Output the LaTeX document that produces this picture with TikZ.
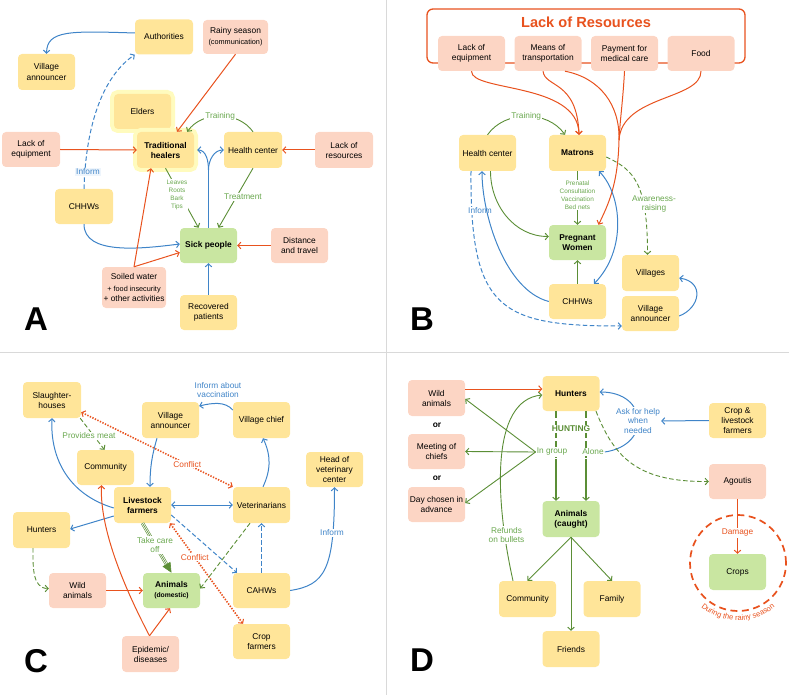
\documentclass[tikz,border=0pt]{standalone}
\usepackage{fontspec}
\setmainfont{Liberation Sans}
\usetikzlibrary{arrows.meta,decorations.text}

\definecolor{boxyellow}{HTML}{FFE599}
\definecolor{boxpink}{HTML}{FCD5C4}
\definecolor{boxgreen}{HTML}{C9E6A1}
\definecolor{halo}{HTML}{FFFBBE}
\definecolor{redline}{HTML}{E8521E}
\definecolor{blueline}{HTML}{3F84C8}
\definecolor{greenline}{HTML}{5B8E36}
\definecolor{greentext}{HTML}{6AA84F}
\definecolor{divider}{HTML}{D9D9D9}
\definecolor{informbg}{HTML}{EEF5FC}

\tikzset{
  box/.style={rounded corners=4pt, minimum width=57pt, minimum height=35pt,
    align=center, inner sep=1pt, font=\fontsize{8.4}{10}\selectfont},
  ybox/.style={box, fill=boxyellow},
  pbox/.style={box, fill=boxpink},
  gbox/.style={box, fill=boxgreen},
  bold/.style={font=\fontsize{8.4}{10}\selectfont\bfseries},
  halobox/.style={ybox, preaction={draw=halo, line width=8pt}},
  lbl/.style={font=\fontsize{8.3}{9.5}\selectfont, align=center, inner sep=1pt},
  glbl/.style={lbl, text=greentext, fill=white},
  blbl/.style={lbl, text=blueline, fill=white},
  rlbl/.style={lbl, text=redline, fill=white},
  smalltxt/.style={font=\fontsize{6.4}{8}\selectfont},
  panel/.style={inner sep=0pt, font=\fontsize{33}{33}\selectfont\bfseries},
  arr/.style={-{Straight Barb[length=3pt,width=6.5pt,line width=1pt]}},
  arrs/.style={{Straight Barb[length=3pt,width=6.5pt,line width=1pt]}-{Straight Barb[length=3pt,width=6.5pt,line width=1pt]}},
  rl/.style={draw=redline, line width=1pt},
  bl/.style={draw=blueline, line width=1pt},
  gl/.style={draw=greenline, line width=0.9pt},
  dsh/.style={dash pattern=on 4.5pt off 2.5pt},
  dots/.style={line width=1.6pt, dash pattern=on 1.4pt off 1.4pt},
}

\begin{document}
\begin{tikzpicture}[x=1pt, y=-1pt]
\useasboundingbox (0,0) rectangle (789,695);
\draw[divider, line width=1pt] (386,0) -- (386,695);
\draw[divider, line width=1pt] (0,352) -- (789,352);

% A: traditional healers
\node[ybox, minimum width=58pt] (auth) at (164,37) {Authorities};
\node[pbox, minimum width=65pt, minimum height=34pt] (rain) at (235.5,37) {Rainy season\\[1pt]\fontsize{7.3}{8}\selectfont(communication)};
\node[ybox, minimum height=36pt] (vanA) at (46.5,72) {Village\\announcer};
\node[halobox] (elders) at (142.5,111.5) {Elders};
\node[halobox, bold, minimum height=36pt] (healers) at (165.5,150) {Traditional\\healers};
\node[ybox, minimum width=58pt, minimum height=36pt] (hcA) at (253,150) {Health center};
\node[pbox, minimum width=58pt, minimum height=36pt] (lresA) at (344,150) {Lack of\\resources};
\node[pbox, minimum width=58pt] (leqA) at (31,149.5) {Lack of\\equipment};
\node[ybox, minimum width=58pt] (chwA) at (84,206.5) {CHHWs};
\node[gbox, bold] (sick) at (208.5,245.5) {Sick people};
\node[pbox] (dist) at (299.5,245.5) {Distance\\and travel};
\node[pbox, minimum width=64pt, minimum height=41pt] (soil) at (134,287.5) {Soiled water\\[2pt]\fontsize{7.3}{8.7}\selectfont + food insecurity\\+ other activities};
\node[ybox] (recov) at (208.5,312.5) {Recovered\\patients};
\node[panel] at (36,319) {A};

\draw[bl, arr] ([yshift=4pt]auth.west) .. controls (70,31) and (47,30) .. (vanA.north);
\draw[bl, dsh, arr] (chwA.north) .. controls (86,120) and (105,75) .. (auth.south west);
\node[lbl, text=blueline, fill=informbg] (infA) at (88,172) {Inform};
\draw[rl, arr] (rain.south) -- ([xshift=11.5pt]healers.north);
\draw[rl, arr] (leqA.east) -- (healers.west);
\draw[rl, arr] (lresA.west) -- (hcA.east);
\draw[gl, arr] (hcA.north) to[bend right=55] node[glbl]{Training} ([xshift=-7pt]healers.north east);
\coordinate (fork) at (208.5,170);
\draw[bl] (sick.north) -- (fork);
\draw[bl, arr] (fork) to[out=90, in=0] ([xshift=3pt]healers.east);
\draw[bl, arr] (fork) to[out=90, in=180] (hcA.west);
\draw[gl, arr] (healers.south) -- ([xshift=-10pt]sick.north);
\node[glbl, smalltxt] (herbs) at (177,195) {Leaves\\Roots\\Bark\\Tips};
\draw[gl, arr] (hcA.south) -- ([xshift=10pt]sick.north);
\node[glbl] (treat) at (243,197) {Treatment};
\draw[bl, arr] (chwA.south) .. controls (84,255) and (140,249) .. ([yshift=1.5pt]sick.west);
\draw[rl, arr] (soil.north) -- ([xshift=-14.5pt]healers.south);
\draw[rl, arr] (soil.north) -- ([yshift=-7pt]sick.west);
\draw[rl, arr] (dist.west) -- (sick.east);
\draw[bl, arr] (recov.north) -- (sick.south);

% B: matrons and pregnant women
\node[draw=redline, line width=1.3pt, rounded corners=6pt, minimum width=318pt, minimum height=54pt] (lackres) at (586,36) {};
\node[font=\fontsize{14.6}{16}\selectfont\bfseries, text=redline] (lacktitle) at (586,22) {Lack of Resources};
\node[pbox, minimum width=67pt] (leqB) at (471.5,53.5) {Lack of\\equipment};
\node[pbox, minimum width=67pt] (means) at (548,53.5) {Means of\\transportation};
\node[pbox, minimum width=67pt] (pay) at (624.5,53.5) {Payment for\\medical care};
\node[pbox, minimum width=67pt] (food) at (701,53.5) {Food};
\node[ybox, minimum height=36pt] (hcB) at (487.5,153) {Health center};
\node[ybox, bold, minimum height=36pt] (mat) at (577.5,153) {Matrons};
\node[gbox, bold] (preg) at (577.5,242.5) {Pregnant\\Women};
\node[ybox] (chwB) at (577.5,301.5) {CHHWs};
\node[ybox, minimum height=36pt] (vil) at (650.5,273) {Villages};
\node[ybox] (vanB) at (650.5,313.5) {Village\\announcer};
\node[panel] at (422,319) {B};

\draw[rl, arr] (leqB.south) .. controls (471,92) and (578,82) .. ([xshift=1.5pt]mat.north);
\draw[rl, arr] ([xshift=-5pt]means.south) .. controls (545,88) and (577,80) .. ([xshift=1.5pt]mat.north);
\coordinate (merge) at (619,140);
\draw[rl] ([xshift=17pt]means.south) .. controls (600,78) and (620,105) .. (merge);
\draw[rl] (pay.south) .. controls (623,100) and (620,120) .. (merge);
\draw[rl] (food.south) .. controls (701,100) and (622,95) .. (merge);
\draw[rl, arr] (merge) .. controls (618,185) and (608,205) .. ([xshift=21pt]preg.north);
\draw[gl, arr] (hcB.north) to[bend left=55] node[glbl]{Training} ([xshift=-12.5pt]mat.north);
\draw[gl, arr] ([xshift=3pt]hcB.south) to[out=-90, in=180] ([yshift=6pt]preg.west);
\draw[gl, arr] (mat.south) -- (preg.north);
\node[glbl, smalltxt] (care) at (577.5,195) {Prenatal\\Consultation\\Vaccination\\Bed nets};
\draw[gl, arr] (chwB.north) -- (preg.south);
\draw[bl, dsh, arr] ([xshift=-16.5pt]hcB.south) .. controls (470,310) and (500,326) .. ([yshift=-12.5pt]vanB.west);
\node[blbl] (infB) at (480,211) {Inform};
\draw[bl, arr] (chwB.west) .. controls (505,290) and (482,215) .. ([xshift=-5.5pt]hcB.south);
\draw[bl, arrs] ([xshift=16.5pt]chwB.north) .. controls (627,250) and (622,195) .. ([xshift=21.5pt]mat.south);
\draw[gl, dsh, arr] ([yshift=-4pt]mat.east) .. controls (635,170) and (647.5,185) .. ([xshift=-3pt]vil.north);
\node[glbl] (aware) at (654,204) {Awareness-\\raising};
\draw[bl, arr] ([yshift=-2.5pt]vanB.east) .. controls (700,308) and (705,282) .. ([yshift=-5pt]vil.east);

% C: livestock
\node[ybox, minimum width=58pt, minimum height=36pt] (slau) at (52,400) {Slaughter-\\houses};
\node[ybox] (comC) at (105.5,467.5) {Community};
\node[ybox, minimum height=36pt] (vanC) at (170.5,420) {Village\\announcer};
\node[ybox, minimum height=36pt] (chief) at (261.5,420) {Village chief};
\node[ybox] (headvet) at (334.5,469.5) {Head of\\veterinary\\center};
\node[ybox, bold, minimum height=36pt] (lsf) at (142.5,505) {Livestock\\farmers};
\node[ybox, minimum height=36pt] (vet) at (261.5,505) {Veterinarians};
\node[ybox, minimum height=36pt] (huntC) at (41.5,530) {Hunters};
\node[pbox] (wildC) at (77.5,590.5) {Wild\\animals};
\node[gbox, bold] (domes) at (171.5,590.5) {Animals\\\fontsize{6.8}{8}\selectfont\bfseries(domestic)};
\node[ybox] (cahw) at (261.5,590.5) {CAHWs};
\node[pbox, minimum height=36pt] (epid) at (150.5,654) {Epidemic/\\diseases};
\node[ybox] (cropf) at (261.5,641.5) {Crop\\farmers};
\node[panel] at (36,661) {C};

\draw[bl, arr] ([yshift=-3pt]lsf.west) .. controls (70,495) and (50,460) .. (slau.south);
\draw[gl, dsh, arr] ([xshift=-1pt]slau.south east) -- ([xshift=-1pt]comC.north);
\node[glbl] (meat) at (89,436) {Provides meat};
\draw[rl, dots, arrs] ([yshift=6pt]slau.south east) -- node[rlbl, pos=0.7]{Conflict} (vet.north west);
\draw[bl, arr] ([yshift=10pt]chief.west) .. controls (225,401) and (212,403) .. ([yshift=14pt]vanC.east);
\node[lbl, text=blueline] (vacc) at (218,390) {Inform about\\vaccination};
\draw[bl, arr] ([xshift=-13.5pt]vanC.south) to[bend right=8] ([xshift=7.5pt]lsf.north);
\draw[bl, arr] ([xshift=1.5pt]vet.north) to[bend right=25] ([xshift=1.5pt]chief.south);
\draw[bl, arrs] (lsf.east) -- (vet.west);
\draw[bl, arr] ([yshift=-11pt]lsf.west) -- ([yshift=1pt]huntC.east);
\draw[gl, dsh, arr] ([xshift=-8.5pt]huntC.south) to[out=-90, in=180] ([yshift=2pt]wildC.west);
\draw[rl, arr] (wildC.east) -- (domes.west);
\draw[rl, arr] ([xshift=-1pt]epid.north) .. controls (115,570) and (100,520) .. ([xshift=-4pt]comC.south);
\draw[rl, arr] ([xshift=-1pt]epid.north) -- ([xshift=-1.5pt]domes.south);
\draw[greenline, line width=0.6pt, double=white, double distance=2.2pt, shorten >=8pt] (lsf.south) -- (domes.north);
\draw[greenline, line width=0.6pt, -{Triangle[length=10pt,width=9pt]}] (lsf.south) -- (domes.north);
\node[glbl] (tend) at (155,545) {Take care\\off};
\draw[rl, dots, arrs] ([xshift=27.5pt]lsf.south) -- node[rlbl, pos=0.34]{Conflict} ([xshift=-18.5pt]cropf.north);
\draw[bl, dsh, arr] ([yshift=-10pt]lsf.east) -- ([xshift=-24.5pt]cahw.north);
\draw[bl, dsh, arr] (cahw.north) -- (vet.south);
\draw[gl, dsh, arr] ([xshift=-11.5pt]vet.south) -- ([yshift=2pt]domes.east);
\draw[bl, arr] (cahw.east) .. controls (325,585) and (334.5,570) .. (headvet.south);
\node[blbl] (infC) at (332,533) {Inform};

% D: hunting
\node[pbox, minimum height=36pt] (wildD) at (436.5,398) {Wild\\animals};
\node[bold] (or1) at (437,425) {or};
\node[pbox] (chiefs) at (436.5,451.5) {Meeting of\\chiefs};
\node[bold] (or2) at (437,478) {or};
\node[pbox] (dayadv) at (436.5,504.5) {Day chosen in\\advance};
\node[ybox, bold] (huntD) at (571,393.5) {Hunters};
\node[ybox] (cropliv) at (737.5,420.5) {Crop \&\\livestock\\farmers};
\node[pbox] (agouti) at (737.5,481.5) {Agoutis};
\node[gbox, bold, minimum height=36pt] (caught) at (571,519) {Animals\\(caught)};
\node[ybox, minimum height=36pt] (comD) at (527.5,599) {Community};
\node[ybox, minimum height=36pt] (family) at (612,599) {Family};
\node[ybox, minimum height=36pt] (friends) at (571,649) {Friends};
\node[panel] at (422,660) {D};

\draw[rl, arr] ([yshift=9pt]wildD.east) -- ([yshift=4.5pt]huntD.west);
\draw[gl, line width=1.3pt, dash pattern=on 7pt off 3pt] ([xshift=-15pt]huntD.south) -- ([xshift=-15pt]caught.north);
\draw[gl, line width=1.3pt, dash pattern=on 7pt off 3pt] ([xshift=15pt]huntD.south) -- ([xshift=15pt]caught.north);
\coordinate (grp) at (556,459);
\coordinate (solo) at (586,459);
\draw[gl, line width=1.3pt, arr] (grp) -- ([xshift=-15pt]caught.north);
\draw[gl, line width=1.3pt, arr] (solo) -- ([xshift=15pt]caught.north);
\node[glbl, bold, text=greenline] (hunting) at (571,429) {HUNTING};
\node[glbl] (ingroup) at (552,452) {In group};
\node[glbl] (alone) at (593,452) {Alone};
\draw[gl, arr] (ingroup.west) -- ([yshift=-1pt]wildD.east);
\draw[gl, arr] (ingroup.west) -- (chiefs.east);
\draw[gl, arr] (ingroup.west) -- ([yshift=1.5pt]dayadv.east);
\draw[bl, arr] (alone.east) .. controls (652,445) and (648,392) .. ([yshift=1.5pt]huntD.east);
\node[blbl] (askhelp) at (638,421) {Ask for help\\when\\needed};
\draw[bl, arr] (cropliv.west) -- (askhelp.east);
\draw[gl, dsh, arr] ([xshift=25pt]huntD.south) .. controls (615,460) and (640,482) .. (agouti.west);
\draw[gl, arr] (caught.south) -- (comD.north);
\draw[gl, arr] (caught.south) -- (friends.north);
\draw[gl, arr] (caught.south) -- (family.north);
\draw[gl, arr] ([xshift=-14.5pt]comD.north) .. controls (495,500) and (490,400) .. ([yshift=-1.5pt]huntD.west);
\node[glbl] (refund) at (506.5,535) {Refunds\\on bullets};
\draw[redline, line width=1.7pt, dash pattern=on 7pt off 4.5pt] (738,563) circle[radius=48pt];
\node[gbox, minimum height=36pt] (crops) at (737.5,572) {Crops};
\draw[rl, line width=1.4pt, arr] (agouti.south) -- (crops.north);
\node[rlbl] (damage) at (737.5,533) {Damage};
\path[decorate, decoration={text along path, text align=center, text color=redline,
  text={|\fontsize{7.6}{9}\selectfont|During the rainy season}}]
  (738,563) ++(200:57.5pt) arc[start angle=200, end angle=340, radius=57.5pt];
\end{tikzpicture}
\end{document}
